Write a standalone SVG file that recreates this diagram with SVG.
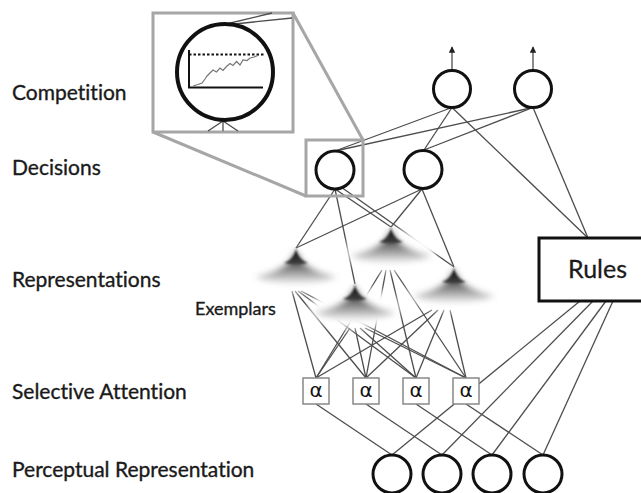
<svg xmlns="http://www.w3.org/2000/svg" width="641" height="493" viewBox="0 0 641 493">
  <style>
    .label { font-family: Lato, "Open Sans", sans-serif; font-size: 21px; fill: #1a1a1a; stroke: #1a1a1a; stroke-width: 0.35; font-variant-ligatures: none; }
    .wire { stroke: #4d4d4d; stroke-width: 1.3; fill: none; }
    .unit { fill: #fff; stroke: #111; stroke-width: 3; }
    .att { fill: #fff; stroke: #888; stroke-width: 1.5; }
    .attglyph { font-family: "DejaVu Sans", sans-serif; font-size: 20px; fill: #111; text-anchor: middle; }
    .lens { fill: none; stroke: #a6a6a6; stroke-width: 3; }
  </style>
  <defs>
    <marker id="tip" viewBox="0 0 8 8" refX="7" refY="4" markerWidth="5" markerHeight="5" orient="auto">
      <path d="M0,0 L8,4 L0,8 Z" fill="#222"/>
    </marker>
    <filter id="mask" x="-60%" y="-60%" width="220%" height="220%">
      <feGaussianBlur stdDeviation="4"/>
    </filter>
    <filter id="soft" x="-60%" y="-60%" width="220%" height="220%">
      <feGaussianBlur stdDeviation="3.4"/>
    </filter>
    <filter id="softer" x="-40%" y="-40%" width="180%" height="180%">
      <feGaussianBlur stdDeviation="0.9"/>
    </filter>
    <linearGradient id="hill" x1="0" y1="0" x2="0" y2="1">
      <stop offset="0" stop-color="#111"/>
      <stop offset="0.3" stop-color="#404040"/>
      <stop offset="0.65" stop-color="#999"/>
      <stop offset="1" stop-color="#f4f4f4"/>
    </linearGradient>
    <linearGradient id="peak" x1="0" y1="0" x2="0" y2="1">
      <stop offset="0" stop-color="#0a0a0a"/>
      <stop offset="1" stop-color="#444"/>
    </linearGradient>
    <!-- exemplar: a soft gaussian bump, apex at the origin -->
    <g id="bump">
      <ellipse cx="0" cy="24" rx="45" ry="20" fill="#fff" filter="url(#mask)"/>
      <path d="M0,2 C2,13 13,23 41,29 Q0,43 -41,29 C-13,23 -2,13 0,2 Z" fill="url(#hill)" filter="url(#soft)"/>
      <path d="M0,0 C1,7 4,12 12,15 C4,17 -4,17 -12,15 C-4,12 -1,7 0,0 Z" fill="url(#peak)" filter="url(#softer)"/>
    </g>
  </defs>

  <rect width="641" height="493" fill="#fff"/>

  <!-- layer labels -->
  <g id="labels">
    <text class="label" x="12" y="100">Competition</text>
    <text class="label" x="12" y="175">Decisions</text>
    <text class="label" x="12" y="287">Representations</text>
    <text class="label" x="195" y="315" style="font-size:18px">Exemplars</text>
    <text class="label" x="12" y="399">Selective Attention</text>
    <text class="label" x="12" y="477">Perceptual Representation</text>
  </g>

  <!-- connectors -->
  <g id="connectors" class="wire">
    <!-- decisions to competition -->
    <line x1="335" y1="151" x2="452" y2="107.5"/>
    <line x1="335" y1="151" x2="533" y2="107.5"/>
    <line x1="424" y1="150" x2="452" y2="107.5"/>
    <line x1="424" y1="150" x2="533" y2="107.5"/>
    <!-- competition to rules -->
    <line x1="452" y1="107.5" x2="588" y2="238"/>
    <line x1="533" y1="107.5" x2="588" y2="238"/>
    <!-- decisions to exemplars -->
    <line x1="335" y1="189" x2="296" y2="248"/>
    <line x1="335" y1="189" x2="355" y2="284"/>
    <line x1="335" y1="189" x2="391" y2="227"/>
    <line x1="341" y1="187" x2="454" y2="267"/>
    <line x1="422" y1="189" x2="296" y2="248"/>
    <line x1="422" y1="189" x2="391" y2="227"/>
    <line x1="422" y1="189" x2="454" y2="267"/>
    <!-- exemplars to attention weights -->
    <line x1="292" y1="291" x2="316" y2="378"/>
    <line x1="295" y1="291" x2="366" y2="378"/>
    <line x1="298" y1="291" x2="416" y2="378"/>
    <line x1="301" y1="291" x2="466" y2="378"/>
    <line x1="382" y1="270" x2="316" y2="378"/>
    <line x1="386" y1="270" x2="366" y2="378"/>
    <line x1="390" y1="270" x2="416" y2="378"/>
    <line x1="394" y1="270" x2="466" y2="378"/>
    <line x1="350" y1="328" x2="316" y2="378"/>
    <line x1="355" y1="328" x2="366" y2="378"/>
    <line x1="360" y1="328" x2="416" y2="378"/>
    <line x1="365" y1="328" x2="466" y2="378"/>
    <line x1="432" y1="310" x2="316" y2="378"/>
    <line x1="438" y1="310" x2="366" y2="378"/>
    <line x1="444" y1="310" x2="416" y2="378"/>
    <line x1="450" y1="310" x2="466" y2="378"/>
    <!-- attention weights to perceptual units -->
    <line x1="316" y1="404" x2="392" y2="455"/>
    <line x1="366" y1="404" x2="442" y2="455"/>
    <line x1="416" y1="404" x2="492" y2="455"/>
    <line x1="466" y1="404" x2="543" y2="455"/>
    <!-- rules to perceptual units -->
    <line x1="580" y1="301" x2="392" y2="455"/>
    <line x1="593" y1="301" x2="442" y2="455"/>
    <line x1="606" y1="301" x2="492" y2="455"/>
    <line x1="613" y1="301" x2="543" y2="455"/>
    <!-- outputs -->
    <line x1="452" y1="70" x2="452" y2="47" marker-end="url(#tip)"/>
    <line x1="533" y1="70" x2="533" y2="47" marker-end="url(#tip)"/>
  </g>

  <!-- exemplar representations -->
  <g id="exemplar-1"><use href="#bump" transform="translate(296,248)"/></g>
  <g id="exemplar-2"><use href="#bump" transform="translate(391,227)"/></g>
  <g id="exemplar-3"><use href="#bump" transform="translate(355,284)"/></g>
  <g id="exemplar-4"><use href="#bump" transform="translate(454,267)"/></g>

  <!-- competition units -->
  <g id="competition-1"><circle class="unit" cx="452" cy="89" r="18.5"/></g>
  <g id="competition-2"><circle class="unit" cx="533" cy="89" r="18.5"/></g>

  <!-- decision units -->
  <g id="decision-1"><circle class="unit" cx="335" cy="170" r="19"/></g>
  <g id="decision-2"><circle class="unit" cx="423" cy="169.5" r="19"/></g>

  <!-- rules module -->
  <g id="rules">
    <rect x="539" y="238" width="112" height="63" fill="#fff" stroke="#111" stroke-width="3"/>
    <text x="568" y="278" style="font-family:Lato, 'Open Sans', sans-serif; font-size:25px; fill:#1a1a1a; stroke:#1a1a1a; stroke-width:0.3">Rules</text>
  </g>

  <!-- attention weights -->
  <g id="attention-1"><rect class="att" x="303" y="378" width="26" height="26"/><text class="attglyph" x="316" y="397">α</text></g>
  <g id="attention-2"><rect class="att" x="353" y="378" width="26" height="26"/><text class="attglyph" x="366" y="397">α</text></g>
  <g id="attention-3"><rect class="att" x="403" y="378" width="26" height="26"/><text class="attglyph" x="416" y="397">α</text></g>
  <g id="attention-4"><rect class="att" x="453" y="378" width="26" height="26"/><text class="attglyph" x="466" y="397">α</text></g>

  <!-- perceptual units -->
  <g id="percept-1"><circle class="unit" cx="392" cy="474" r="19"/></g>
  <g id="percept-2"><circle class="unit" cx="442" cy="474" r="19"/></g>
  <g id="percept-3"><circle class="unit" cx="492" cy="474" r="19"/></g>
  <g id="percept-4"><circle class="unit" cx="543" cy="474" r="19"/></g>

  <!-- magnified view of a decision unit -->
  <g id="magnifier">
    <line class="lens" x1="153" y1="132" x2="306" y2="196"/>
    <line class="lens" x1="293" y1="13" x2="363" y2="140"/>
    <rect class="lens" x="306" y="140" width="57" height="56"/>
    <rect x="153" y="13" width="140" height="119" fill="#fff" stroke="#a6a6a6" stroke-width="3"/>
    <g class="wire">
      <line x1="222" y1="25" x2="272" y2="13"/>
      <line x1="225" y1="25" x2="292" y2="18"/>
      <line x1="223" y1="121" x2="208" y2="131"/>
      <line x1="223" y1="121" x2="223" y2="131"/>
      <line x1="223" y1="121" x2="238" y2="131"/>
    </g>
    <circle cx="225" cy="72" r="48" fill="#fff" stroke="#111" stroke-width="4"/>
    <polyline points="189,50 189,87.5 263,87.5" fill="none" stroke="#111" stroke-width="2"/>
    <line x1="189" y1="54.5" x2="264" y2="54.5" stroke="#111" stroke-width="2" stroke-dasharray="2.5 2"/>
    <polyline points="193,86 198,84.5 202,83 205,79 207,76 210,73 213,70 216.5,72 220,68 223,70.5 226.5,66.5 230,63.5 233,65.5 236.5,61.5 240,65 243,60 247,60.5 250,58 254,57 258,55.5" fill="none" stroke="#777" stroke-width="1.2"/>
  </g>
</svg>
